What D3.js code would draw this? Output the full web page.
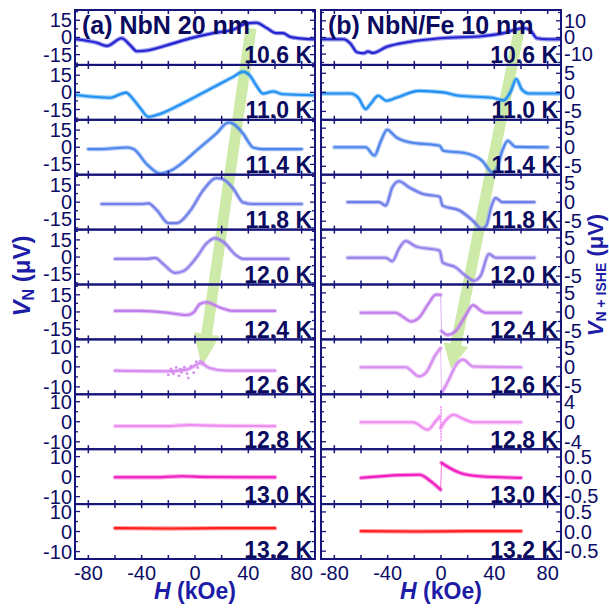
<!DOCTYPE html>
<html><head><meta charset="utf-8">
<script src="https://cdn.jsdelivr.net/npm/d3@7"></script>
<style>
html,body{margin:0;padding:0;background:#fff;}
text{font-family:"Liberation Sans",Arial,sans-serif;}
</style></head>
<body>
<script>
// ---------- DATA ----------
const temps = ["10.6 K","11.0 K","11.4 K","11.8 K","12.0 K","12.4 K","12.6 K","12.8 K","13.0 K","13.2 K"];
const colors = ["#2424d2","#2290f2","#4f86ec","#7080e8","#9680ea","#c07eec","#d68ef0","#ef8ef0","#f01ec0","#ff2020"];
const panelTitles = ["(a) NbN 20 nm","(b) NbN/Fe 10 nm"];
const xTicks = [-80,-40,0,40,80];

// left panel (a) V_N in µV
const a106 = [[-89,-1.6],[-73.5,-4.7],[-66,-7.4],[-55,-0.7],[-48.6,-6.8],[-43.6,-12],[-36,-11.4],[-21,-6.8],[-3.7,-0.8],[13.7,3.8],[28.5,6.8],[38.6,12.3],[46,12.9],[53.6,8.4],[61,3.8],[66,3.8],[71,0.7],[78.5,-0.8],[88.5,-1.6]];
const a110 = [[-89,-2.3],[-63.5,-4.7],[-56,-1.6],[-51.6,-0.2],[-47.3,-4.7],[-41,-13.8],[-35,-21.4],[-28.6,-19.8],[-8.7,-9.3],[13.7,4.4],[28.6,13.5],[36,18],[41,15],[46,5.9],[51,-1.1],[58.5,0.7],[66,-1.6],[88.5,-2.5]];
const a114 = [[-80,-1.6],[-71,-1.6],[-58.5,-0.7],[-51,-0.2],[-46,-1.6],[-36,-15],[-26,-23],[-18.7,-20.7],[3.7,-0.2],[16,12],[25,21.6],[28.6,20.5],[36,12],[43.6,-0.2],[51,-1.6],[80,-1.6]];
const a118 = [[-70,-1.6],[-41,-1.6],[-35,-1.1],[-28.6,-7],[-20,-18.3],[-13.7,-18.3],[-3.7,-7.7],[6.2,10.5],[16,21],[21,20],[28.6,12],[36,-0.2],[43.6,-1.6],[80,-1.6]];
const a120 = [[-60,-1.6],[-36,-1.6],[-29.9,-0.7],[-23.7,-6.2],[-15,-13.8],[-8.7,-12.3],[1.2,-0.2],[8.7,12],[15,16.5],[21,13.5],[31,1.4],[36,-1.6],[70,-1.6]];
const a124 = [[-60,0.9],[-41,0.9],[-21,-0.6],[-6.2,-2.7],[-1.2,-0.6],[3.7,7],[8.7,8.5],[18.7,3.9],[28.6,0.9],[60,0.9]];
const a126 = [[-60,-1.9],[-21,-2.2],[-6.2,-1.4],[1.2,1.1],[3.7,1.9],[11,-0.6],[23.6,-1.9],[60,-1.9]];
const a128 = [[-60,-2.2],[-20,-2.2],[-5,-1.6],[5,-1.8],[60,-2.2]];
const a130 = [[-60,-0.3],[-30,-0.3],[-10,0.2],[10,-0.2],[60,-0.3]];
const a132 = [[-60,1.7],[-20,1.5],[20,1.7],[60,1.7]];
const a126noise = [[-20,-4],[-18,-1],[-16,-3.5],[-14,-0.3],[-12,-4.5],[-10,-2.8],[-8,-0.2],[-6,-3.4],[-5,-5.6],[-3,0.3],[-1,-2.9],[1,2.6],[2,-0.4],[4,3.0],[6,2.2],[-11,-1.2],[-17,-2.6]];

// right panel (b) V_N+ISHE in µV
const b106 = [[-89.5,-1.1],[-73,-1.1],[-68,-3.6],[-63,-8.9],[-58,-9.5],[-54.8,-8.4],[-51,-9.3],[-41,-5.7],[-23,-2.6],[-0.8,-0.5],[31.7,0.9],[46.7,2.6],[54,4.3],[62,5.7],[67,4.3],[72,-0.5],[80,-1.1],[89,-1.1]];
const b110 = [[-89.5,-0.3],[-68,-0.3],[-62,-1.4],[-56.5,-4.4],[-53,-3.1],[-47,-0.9],[-41,-2.2],[-33.5,-1.4],[-16.5,0.4],[1.7,0],[13.5,-0.9],[38.5,-1.4],[47,-2.1],[52.5,0.4],[56.5,3.5],[60.5,0.8],[66,-0.3],[89,-0.3]];
const b114 = [[-80,0],[-56.5,0],[-50,-2.2],[-45,1.7],[-40.5,4.6],[-33.5,2.6],[-23.5,1.3],[-1,0.4],[1.7,-0.9],[19,-1.6],[31,-3.6],[38.5,-6.6],[41,-6.2],[46,-0.9],[50,1.7],[56,0.1],[80,0]];
const b118 = [[-70,0],[-46.5,0],[-41.5,-0.9],[-36.5,3.9],[-31.5,5.5],[-24,3.9],[-14,2.2],[-1,1.4],[1.2,-0.9],[14,-2.2],[24,-4.9],[30.5,-7],[34,-6.2],[37.5,-1.4],[41,1.1],[46,0],[70,0]];
const b120 = [[-70,-0.2],[-41.5,-0.2],[-36.5,-1.1],[-31.5,2.2],[-26.5,4.2],[-19,2.8],[-1,1.7],[1.2,-1.4],[11,-2.7],[18.5,-4.9],[24.7,-6.2],[29.7,-4.9],[36,0.8],[41,-0.2],[70,-0.2]];
const b124 = [[-60,-0.2],[-34,-0.2],[-28.5,-1.3],[-22.5,-2.5],[-16.5,-1.5],[-9,2.4],[-4,4.5],[-0.3,4.5],[0.4,-5],[5,-6],[11,-5],[19,-0.6],[24,1.8],[30,0.3],[33.5,-0.2],[60,-0.2]];
const b126 = [[-60,-0.1],[-26.5,-0.1],[-16.5,-2.5],[-11.5,-1.6],[-4,3.2],[-0.3,4.9],[0.4,-7.0],[6.5,-2.9],[11.5,0.6],[16.5,1.9],[24,0.1],[60,-0.1]];
const b128 = [[-60,-0.1],[-21,-0.1],[-10,-1.6],[-4,0.1],[-1,1.1],[-0.3,-1.2],[3,0.1],[9.5,1.4],[16.5,0.6],[24,-0.1],[60,-0.1]];
const b128spike = [[0,3.1],[0,-3.9]];
const b130 = [[-60,-0.03],[-31,0.04],[-16,0.05],[-8,-0.11],[-2,-0.28],[-0.3,-0.33],[0.4,0.35],[6.5,0.22],[14,0.1],[29,0.01],[60,-0.03]];
const b132 = [[-60,0.01],[-20,0.0],[20,0.01],[60,0.01]];

const leftSeries = [a106,a110,a114,a118,a120,a124,a126,a128,a130,a132];
const rightSeries = [b106,b110,b114,b118,b120,b124,b126,b128,b130,b132];

// y half-ranges and tick values
const leftYMax = [24,24,24,24,24,24,13.7,13.7,13.7,13.7];
const rightYMax = [16.5,7.2,7.2,7.2,7.2,7.2,7.2,5.5,0.7,0.7];
const leftYTicks = [[-15,0,15],[-15,0,15],[-15,0,15],[-15,0,15],[-15,0,15],[-15,0,15],[-10,0,10],[-10,0,10],[-10,0,10],[-10,0,10]];
const rightYTicks = [[-10,0,10],[-5,0,5],[-5,0,5],[-5,0,5],[-5,0,5],[-5,0,5],[-5,0,5],[-4,0,4],[-0.5,0,0.5],[-0.5,0,0.5]];

// green guide arrows (panel, row, H, V) start -> tip
const arrowStarts = [{p:0,r:0,H:42,V:8},{p:1,r:0,H:59,V:6}];
const arrowTips = [{p:0,r:6,H:5.2,V:0},{p:1,r:6,H:7.5,V:-0.6}];

// ---------- LAYOUT ----------
const W=609,H=608;
const panelX=[[75,315],[321,561]];
const top0=10, rowH=54.9, nRows=10;
const navy="#15157a", labelNavy="#0c0c66", titleBlue="#1c1ca6";

const svg=d3.select("body").append("svg").attr("width",W).attr("height",H);
const xs=panelX.map(p=>d3.scaleLinear().domain([-90,90]).range(p));
function yScale(p,r){
  const m = p===0?leftYMax[r]:rightYMax[r];
  const t=top0+r*rowH;
  return d3.scaleLinear().domain([-m,m]).range([t+rowH,t]);
}
function txt(g,x,y,s,opt){
  return g.append("text").attr("x",x).attr("y",y)
    .attr("text-anchor",opt.anchor||"start").attr("font-size",opt.size)
    .attr("font-weight",opt.bold?"bold":"normal").attr("fill",opt.fill||labelNavy)
    .attr("dominant-baseline",opt.baseline||"auto").text(s);
}
// split a series at near-vertical jumps
function splitSeries(s){
  const segs=[[s[0]]], jumps=[];
  for(let i=1;i<s.length;i++){
    if(Math.abs(s[i][0]-s[i-1][0])<1){ jumps.push([s[i-1],s[i]]); segs.push([s[i]]); }
    else segs[segs.length-1].push(s[i]);
  }
  return {segs,jumps};
}

// green arrows (behind everything)
const gA=svg.append("g");
arrowStarts.forEach((s,i)=>{
  const t=arrowTips[i];
  const S=[xs[s.p](s.H),yScale(s.p,s.r)(s.V)];
  const T=[xs[t.p](t.H),yScale(t.p,t.r)(t.V)];
  const dx=T[0]-S[0],dy=T[1]-S[1],len=Math.hypot(dx,dy);
  const u=[dx/len,dy/len], n=[-u[1],u[0]];
  const w=5.5, L=i===0?33:25, hw=i===0?13:12.5;
  const B=[T[0]-u[0]*L,T[1]-u[1]*L];
  const pts=[[S[0]+n[0]*w,S[1]+n[1]*w],[B[0]+n[0]*w,B[1]+n[1]*w],[B[0]+n[0]*hw,B[1]+n[1]*hw],T,
    [B[0]-n[0]*hw,B[1]-n[1]*hw],[B[0]-n[0]*w,B[1]-n[1]*w],[S[0]-n[0]*w,S[1]-n[1]*w]];
  gA.append("polygon").attr("points",pts.map(p=>p.join(",")).join(" ")).attr("fill","#cdeaa8");
});

// rows
[0,1].forEach(p=>{
  const x=xs[p], series=p===0?leftSeries:rightSeries;
  for(let r=0;r<nRows;r++){
    const y=yScale(p,r), t=top0+r*rowH;
    const g=svg.append("g");
    const cid=`clip${p}_${r}`;
    g.append("clipPath").attr("id",cid).append("rect").attr("x",panelX[p][0]).attr("y",t).attr("width",panelX[p][1]-panelX[p][0]).attr("height",rowH);
    const line=d3.line().x(d=>x(d[0])).y(d=>y(d[1])).curve(d3.curveMonotoneX);
    const straight=d3.line().x(d=>x(d[0])).y(d=>y(d[1]));
    const cg=g.append("g").attr("clip-path",`url(#${cid})`);
    const {segs,jumps}=splitSeries(series[r]);
    jumps.forEach(j=>cg.append("path").attr("d",straight(j)).attr("stroke",colors[r]).attr("stroke-width",1).attr("stroke-opacity",0.6));
    segs.forEach(sg=>{
      cg.append("path").attr("d",line(sg)).attr("fill","none").attr("stroke",colors[r]).attr("stroke-width",4.4).attr("stroke-opacity",0.45).attr("stroke-linejoin","round").attr("stroke-linecap","round");
      cg.append("path").attr("d",line(sg)).attr("fill","none").attr("stroke",colors[r]).attr("stroke-width",2.1).attr("stroke-linejoin","round").attr("stroke-linecap","round");
    });
    if(p===0&&r===6){
      cg.selectAll("circle").data(a126noise).join("circle").attr("cx",d=>x(d[0])).attr("cy",d=>y(d[1])).attr("r",1.4).attr("fill",colors[r]);
    }
    if(p===1&&r===7){
      cg.append("path").attr("d",straight(b128spike)).attr("stroke",colors[r]).attr("stroke-width",1.6).attr("stroke-dasharray","2,1");
    }
    // frame
    g.append("rect").attr("x",panelX[p][0]).attr("y",t).attr("width",panelX[p][1]-panelX[p][0]).attr("height",rowH)
      .attr("fill","none").attr("stroke",navy).attr("stroke-width",2);
    // x ticks (every 20) top and bottom inward
    d3.range(-80,81,20).forEach(v=>{
      g.append("line").attr("x1",x(v)).attr("x2",x(v)).attr("y1",t).attr("y2",t+4).attr("stroke",navy).attr("stroke-width",1.5);
      g.append("line").attr("x1",x(v)).attr("x2",x(v)).attr("y1",t+rowH).attr("y2",t+rowH-4).attr("stroke",navy).attr("stroke-width",1.5);
    });
    // y ticks both sides, plus minor
    const tv=p===0?leftYTicks[r]:rightYTicks[r];
    const step=tv[2]-tv[1];
    const m=p===0?leftYMax[r]:rightYMax[r];
    const all=[];
    for(let k=-6;k<=6;k++){const v=k*step/2; if(Math.abs(v)<m*0.97) all.push([v,k%2===0]);}
    all.forEach(([v,maj])=>{
      const L=maj?5:3;
      g.append("line").attr("x1",panelX[p][0]).attr("x2",panelX[p][0]+L).attr("y1",y(v)).attr("y2",y(v)).attr("stroke",navy).attr("stroke-width",1.3);
      g.append("line").attr("x1",panelX[p][1]).attr("x2",panelX[p][1]-L).attr("y1",y(v)).attr("y2",y(v)).attr("stroke",navy).attr("stroke-width",1.3);
    });
    // y tick labels
    const fmt = (p===1&&r>=8)?d3.format(".1f"):d3.format("d");
    tv.slice().reverse().forEach(v=>{
      const s=fmt(v).replace("\u2212","-");
      if(p===0) txt(svg,72,y(v),s,{size:20,anchor:"end",baseline:"central"});
      else txt(svg,564,y(v),s,{size:20,anchor:"start",baseline:"central"});
    });
    // temperature label
    txt(svg,panelX[p][1]-3,t+rowH-1.5,temps[r],{size:23,bold:true,anchor:"end",fill:"#0a0a5e"});
  }
  // panel title
  txt(svg,panelX[p][0]+7,34,panelTitles[p],{size:25,bold:true,fill:"#0a0a5e"});
  // x tick labels
  xTicks.forEach(v=>txt(svg,x(v),580,String(v),{size:20,anchor:"middle"}));
  // x title
  const xt=svg.append("text").attr("x",(panelX[p][0]+panelX[p][1])/2).attr("y",599)
    .attr("text-anchor","middle").attr("font-size",23).attr("font-weight","bold").attr("fill",titleBlue);
  xt.append("tspan").attr("font-style","italic").text("H");
  xt.append("tspan").text(" (kOe)");
});

// y titles
const yl=svg.append("text").attr("transform","translate(30,276) rotate(-90)").attr("text-anchor","middle")
  .attr("font-size",24).attr("font-weight","bold").attr("fill",titleBlue);
yl.append("tspan").attr("font-style","italic").text("V");
yl.append("tspan").attr("font-size",16).attr("dy",4).text("N");
yl.append("tspan").attr("dy",-4).text(" (\u03BCV)");

const yr=svg.append("text").attr("transform","translate(603,275) rotate(-90)").attr("text-anchor","middle")
  .attr("font-size",22).attr("font-weight","bold").attr("fill",titleBlue);
yr.append("tspan").attr("font-style","italic").text("V");
yr.append("tspan").attr("font-size",14).attr("dy",3).text("N + ISHE");
yr.append("tspan").attr("dy",-3).text(" (\u03BCV)");
</script>
</body></html>
